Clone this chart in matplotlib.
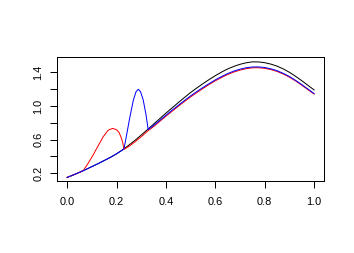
import matplotlib
matplotlib.use("Agg")
import matplotlib.pyplot as plt

# Black curve
black_x = [0.000, 0.025, 0.050, 0.075, 0.100, 0.125, 0.150, 0.175, 0.200, 0.225,
           0.250, 0.275, 0.300, 0.325, 0.350, 0.375, 0.400, 0.425, 0.450, 0.475,
           0.500, 0.525, 0.550, 0.575, 0.600, 0.625, 0.650, 0.675, 0.700, 0.725,
           0.750, 0.775, 0.800, 0.825, 0.850, 0.875, 0.900, 0.925, 0.950, 0.975, 1.000]
black_y = [0.152, 0.181, 0.212, 0.245, 0.280, 0.315, 0.352, 0.390, 0.432, 0.481,
           0.535, 0.593, 0.655, 0.719, 0.785, 0.850, 0.915, 0.978, 1.040, 1.101,
           1.160, 1.214, 1.265, 1.314, 1.360, 1.402, 1.440, 1.470, 1.495, 1.513,
           1.524, 1.523, 1.514, 1.497, 1.473, 1.440, 1.400, 1.352, 1.300, 1.245, 1.190]

# Red curve (bump between 0.065 and 0.23)
red_x = [0.000, 0.025, 0.050, 0.065, 0.085, 0.105, 0.125, 0.146, 0.166, 0.184,
         0.200, 0.210, 0.218, 0.225, 0.230, 0.250, 0.275, 0.300, 0.325, 0.350,
         0.375, 0.400, 0.425, 0.450, 0.475, 0.500, 0.525, 0.550, 0.575, 0.600,
         0.625, 0.650, 0.675, 0.700, 0.725, 0.750, 0.775, 0.800, 0.825, 0.850,
         0.875, 0.900, 0.925, 0.950, 0.975, 1.000]
red_y = [0.152, 0.181, 0.212, 0.231, 0.320, 0.417, 0.525, 0.635, 0.712, 0.734,
         0.718, 0.685, 0.630, 0.565, 0.485, 0.520, 0.575, 0.635, 0.700, 0.755,
         0.817, 0.878, 0.938, 0.996, 1.053, 1.108, 1.159, 1.208, 1.255, 1.299,
         1.338, 1.374, 1.403, 1.426, 1.443, 1.453, 1.454, 1.447, 1.432, 1.410,
         1.379, 1.342, 1.297, 1.247, 1.194, 1.141]

# Blue curve (bump between 0.23 and 0.328)
blue_x = [0.000, 0.025, 0.050, 0.075, 0.100, 0.125, 0.150, 0.175, 0.200, 0.225,
          0.230, 0.240, 0.254, 0.268, 0.279, 0.288, 0.297, 0.308, 0.319, 0.328,
          0.350, 0.375, 0.400, 0.425, 0.450, 0.475, 0.500, 0.525, 0.550, 0.575,
          0.600, 0.625, 0.650, 0.675, 0.700, 0.725, 0.750, 0.775, 0.800, 0.825,
          0.850, 0.875, 0.900, 0.925, 0.950, 0.975, 1.000]
blue_y = [0.152, 0.181, 0.212, 0.245, 0.280, 0.315, 0.352, 0.390, 0.432, 0.479,
          0.489, 0.645, 0.870, 1.070, 1.170, 1.198, 1.170, 1.070, 0.900, 0.720,
          0.768, 0.829, 0.890, 0.950, 1.008, 1.065, 1.120, 1.171, 1.220, 1.266,
          1.310, 1.349, 1.385, 1.414, 1.437, 1.454, 1.463, 1.464, 1.457, 1.441,
          1.419, 1.387, 1.350, 1.304, 1.254, 1.201, 1.148]

x_ticks = [0.0, 0.2, 0.4, 0.6, 0.8, 1.0]
x_labels = ["0.0", "0.2", "0.4", "0.6", "0.8", "1.0"]
y_ticks = [0.2, 0.4, 0.6, 0.8, 1.0, 1.2, 1.4]
y_labels = ["0.2", "", "0.6", "", "1.0", "", "1.4"]

plt.rcParams['font.family'] = ['Liberation Sans', 'DejaVu Sans']

fig = plt.figure(figsize=(354 / 72, 253 / 72), dpi=72)
ax = fig.add_axes([57.3 / 354, 1 - 181 / 253, (324 - 57.3) / 354, (181 - 57.3) / 253])

ax.plot(black_x, black_y, color="black", lw=1)
ax.plot(red_x, red_y, color="red", lw=1)
ax.plot(blue_x, blue_y, color="blue", lw=1)

ax.set_xlim(-0.04, 1.04)
ax.set_ylim(0.109, 1.578)

ax.set_xticks(x_ticks)
ax.set_xticklabels(x_labels, fontsize=11)
ax.set_yticks(y_ticks)
ax.set_yticklabels(y_labels, fontsize=11, rotation=90, va="center")

ax.tick_params(direction="out", length=7, width=1, color="black")
ax.tick_params(axis="x", pad=9)
ax.tick_params(axis="y", pad=7)
for s in ax.spines.values():
    s.set_linewidth(1)
    s.set_color("black")

fig.savefig("out.png", dpi=72)
